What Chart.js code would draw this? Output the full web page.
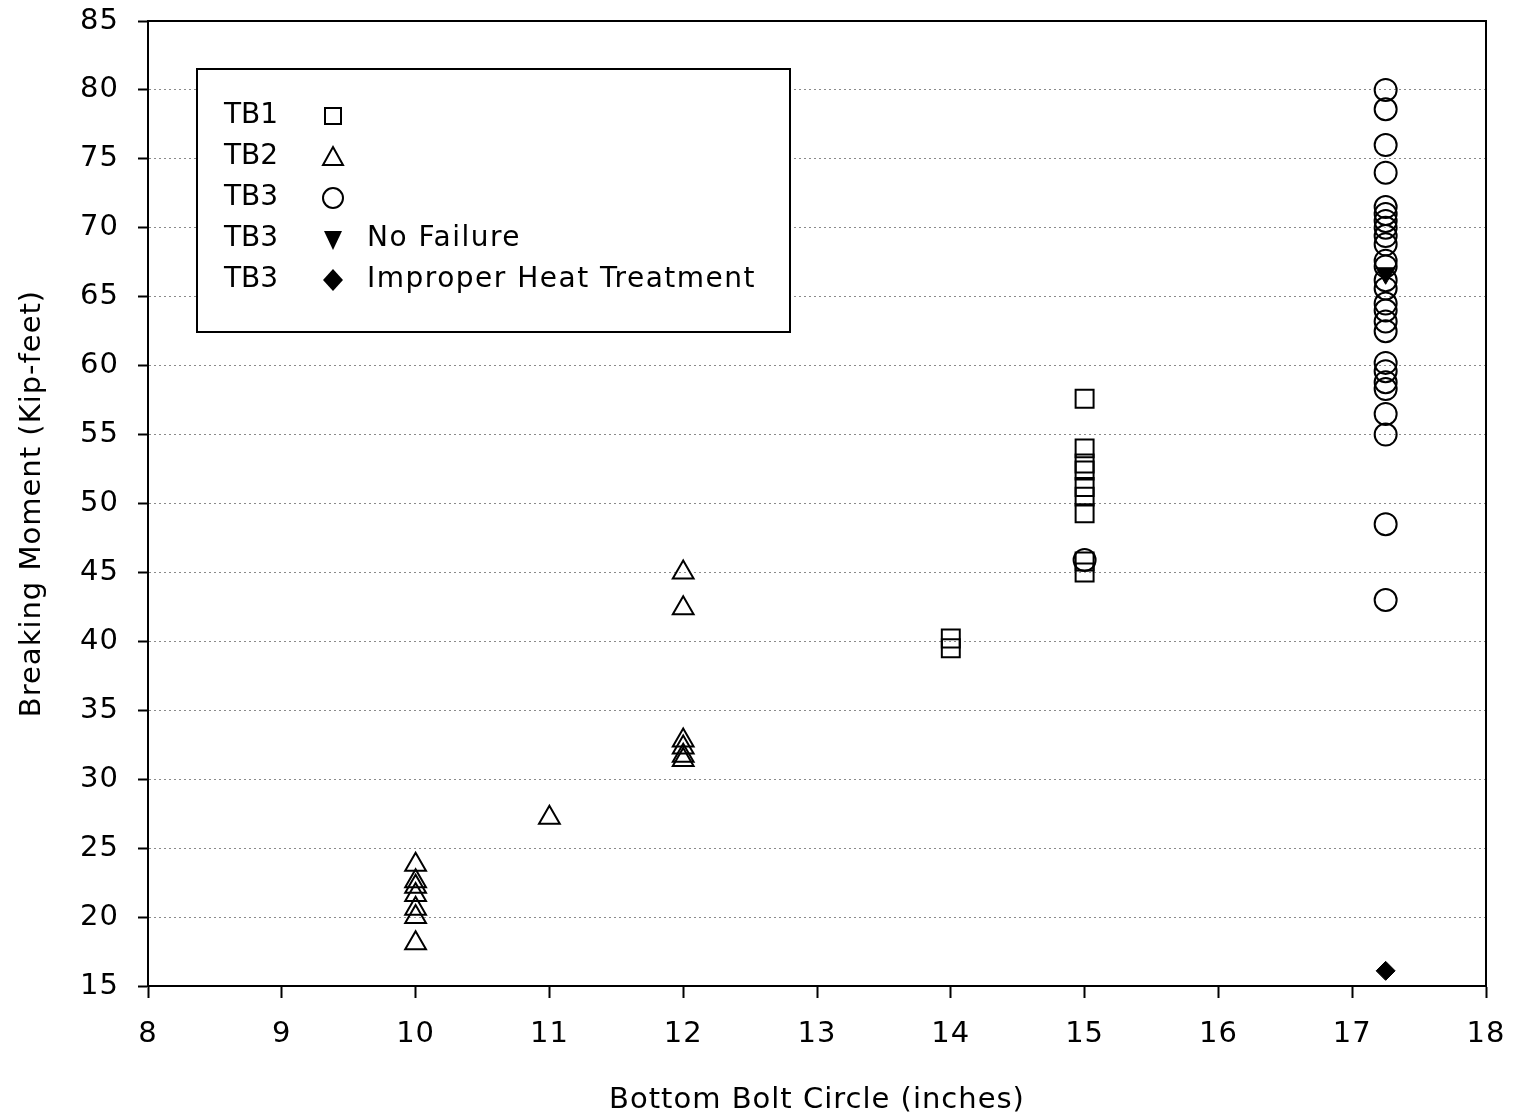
<!DOCTYPE html>
<html>
<head>
<meta charset="utf-8">
<script src="https://cdn.jsdelivr.net/npm/chart.js"></script>
<style>
  html, body { margin: 0; padding: 0; background: #fff; }
  #wrap { width: 1514px; height: 1119px; }
</style>
</head>
<body>
<div id="wrap"><canvas id="chart" width="1514" height="1119"></canvas></div>
<script>
// TB1 (open squares)
const tb1X = [14, 14, 15, 15, 15, 15, 15, 15, 15, 15, 15];
const tb1Y = [40.2, 39.5, 57.6, 54.0, 52.9, 52.4, 51.2, 50.5, 49.3, 45.8, 45.0];

// TB2 (open triangles)
const tb2X = [10, 10, 10, 10, 10, 10, 10, 11, 12, 12, 12, 12, 12, 12];
const tb2Y = [23.8, 22.6, 22.2, 21.6, 20.6, 20.0, 18.1, 27.2, 45.0, 42.4, 32.8, 32.3, 31.7, 31.4];

// TB3 (open circles)
const tb3X = [15, 17.25, 17.25, 17.25, 17.25, 17.25, 17.25, 17.25, 17.25, 17.25, 17.25,
  17.25, 17.25, 17.25, 17.25, 17.25, 17.25, 17.25, 17.25, 17.25, 17.25,
  17.25, 17.25, 17.25, 17.25, 17.25, 17.25];
const tb3Y = [45.9, 80.0, 78.6, 76.0, 74.0, 71.5, 71.0, 70.5, 70.0, 69.4, 68.8,
  67.6, 67.2, 66.2, 65.6, 64.5, 64.0, 63.2, 62.5, 60.2, 59.6,
  58.8, 58.3, 56.5, 55.0, 48.5, 43.0];

// TB3 no failure (filled down triangle)
const noFailX = [17.25];
const noFailY = [66.7];

// TB3 improper heat treatment (filled diamond)
const heatX = [17.25];
const heatY = [16.1];

const xTicks = [8, 9, 10, 11, 12, 13, 14, 15, 16, 17, 18];
const yTicks = [15, 20, 25, 30, 35, 40, 45, 50, 55, 60, 65, 70, 75, 80, 85];

const legendRows = [
  ["TB1", "square", ""],
  ["TB2", "triangle", ""],
  ["TB3", "circle", ""],
  ["TB3", "down", "No Failure"],
  ["TB3", "diamond", "Improper Heat Treatment"]
];

const zip = (xs, ys) => xs.map((x, i) => ({ x: x, y: ys[i] }));

const FONT = "'DejaVu Sans', sans-serif";

// draw a legend marker by hand
function drawMarker(ctx, kind, x, y) {
  ctx.save();
  ctx.strokeStyle = "#000";
  ctx.fillStyle = "#000";
  ctx.lineWidth = 2;
  ctx.beginPath();
  if (kind === "square") {
    ctx.rect(x - 8, y - 8, 16, 16);
    ctx.stroke();
  } else if (kind === "triangle") {
    ctx.moveTo(x, y - 10);
    ctx.lineTo(x + 10, y + 8);
    ctx.lineTo(x - 10, y + 8);
    ctx.closePath();
    ctx.stroke();
  } else if (kind === "circle") {
    ctx.arc(x, y, 10, 0, Math.PI * 2);
    ctx.stroke();
  } else if (kind === "down") {
    ctx.moveTo(x - 9, y - 8);
    ctx.lineTo(x + 9, y - 8);
    ctx.lineTo(x, y + 11);
    ctx.closePath();
    ctx.fill();
  } else if (kind === "diamond") {
    ctx.moveTo(x, y - 11);
    ctx.lineTo(x + 10, y);
    ctx.lineTo(x, y + 11);
    ctx.lineTo(x - 10, y);
    ctx.closePath();
    ctx.fill();
  }
  ctx.restore();
}

const framePlugin = {
  id: "frame",
  beforeDraw(chart) {
    chart.ctx.letterSpacing = "1px";
  },
  afterDraw(chart) {
    const ctx = chart.ctx;
    const a = chart.chartArea;
    ctx.save();
    ctx.strokeStyle = "#000";
    ctx.lineWidth = 2;
    ctx.beginPath();
    ctx.moveTo(a.left, a.top);
    ctx.lineTo(a.right, a.top);
    ctx.lineTo(a.right, a.bottom);
    ctx.stroke();

    // legend box
    ctx.fillStyle = "#fff";
    ctx.fillRect(197, 69, 593, 263);
    ctx.strokeRect(197, 69, 593, 263);
    ctx.fillStyle = "#000";
    ctx.font = "28px " + FONT;
    ctx.textBaseline = "middle";
    const rowY = [116, 157, 198, 239, 280];
    legendRows.forEach((row, i) => {
      ctx.letterSpacing = "0px";
      ctx.fillText(row[0], 224, rowY[i]);
      drawMarker(ctx, row[1], 333, rowY[i]);
      ctx.letterSpacing = "1.5px";
      if (row[2]) ctx.fillText(row[2], 367, rowY[i]);
    });
    ctx.restore();
  }
};

const openPoint = {
  borderColor: "#000",
  backgroundColor: "rgba(0,0,0,0)",
  borderWidth: 2,
  pointHoverRadius: 0
};

new Chart(document.getElementById("chart"), {
  type: "scatter",
  data: {
    datasets: [
      Object.assign({ label: "TB1", data: zip(tb1X, tb1Y), pointStyle: "rect", pointRadius: 12.7 }, openPoint),
      Object.assign({ label: "TB2", data: zip(tb2X, tb2Y), pointStyle: "triangle", pointRadius: 12 }, openPoint),
      Object.assign({ label: "TB3", data: zip(tb3X, tb3Y), pointStyle: "circle", pointRadius: 11 }, openPoint),
      {
        label: "TB3 No Failure", data: zip(noFailX, noFailY), pointStyle: "triangle",
        pointRotation: 180, pointRadius: 11, borderColor: "#000", backgroundColor: "#000", borderWidth: 1
      },
      {
        label: "TB3 Improper Heat Treatment", data: zip(heatX, heatY), pointStyle: "rectRot",
        pointRadius: 9.5, borderColor: "#000", backgroundColor: "#000", borderWidth: 1
      }
    ]
  },
  options: {
    responsive: false,
    animation: false,
    events: [],
    layout: { padding: { top: 21, right: 28, left: 0, bottom: 0 } },
    plugins: {
      legend: { display: false },
      tooltip: { enabled: false }
    },
    scales: {
      x: {
        type: "linear",
        min: 8,
        max: 18,
        afterFit(scale) {
          scale.height = 133;
          scale.paddingLeft = 0;
          scale.paddingRight = 0;
        },
        afterBuildTicks(scale) { scale.ticks = xTicks.map(v => ({ value: v })); },
        grid: { drawOnChartArea: false, drawTicks: true, tickLength: 12, tickColor: "#000", tickWidth: 2 },
        border: { display: true, color: "#000", width: 2 },
        ticks: { color: "#000", padding: 19, font: { family: FONT, size: 29 }, maxRotation: 0 },
        title: {
          display: true,
          text: "Bottom Bolt Circle (inches)",
          color: "#000",
          font: { family: FONT, size: 29 },
          padding: { top: 0, bottom: 1 }
        }
      },
      y: {
        type: "linear",
        min: 15,
        max: 85,
        afterFit(scale) {
          scale.width = 148;
          scale.paddingTop = 0;
          scale.paddingBottom = 0;
        },
        afterBuildTicks(scale) { scale.ticks = yTicks.map(v => ({ value: v })); },
        grid: {
          color: c => (c.tick && (c.tick.value === 85 || c.tick.value === 15)) ? "rgba(0,0,0,0)" : "#8a8a8a",
          lineWidth: 1,
          drawTicks: true,
          tickLength: 10,
          tickColor: "#000",
          tickWidth: 2
        },
        border: { display: true, color: "#000", width: 2, dash: [2, 3] },
        ticks: { color: "#000", padding: 19, font: { family: FONT, size: 29 } },
        title: {
          display: true,
          text: "Breaking Moment (Kip-feet)",
          color: "#000",
          font: { family: FONT, size: 29 },
          padding: { top: 15, bottom: 0 }
        }
      }
    }
  },
  plugins: [framePlugin]
});
</script>
</body>
</html>
